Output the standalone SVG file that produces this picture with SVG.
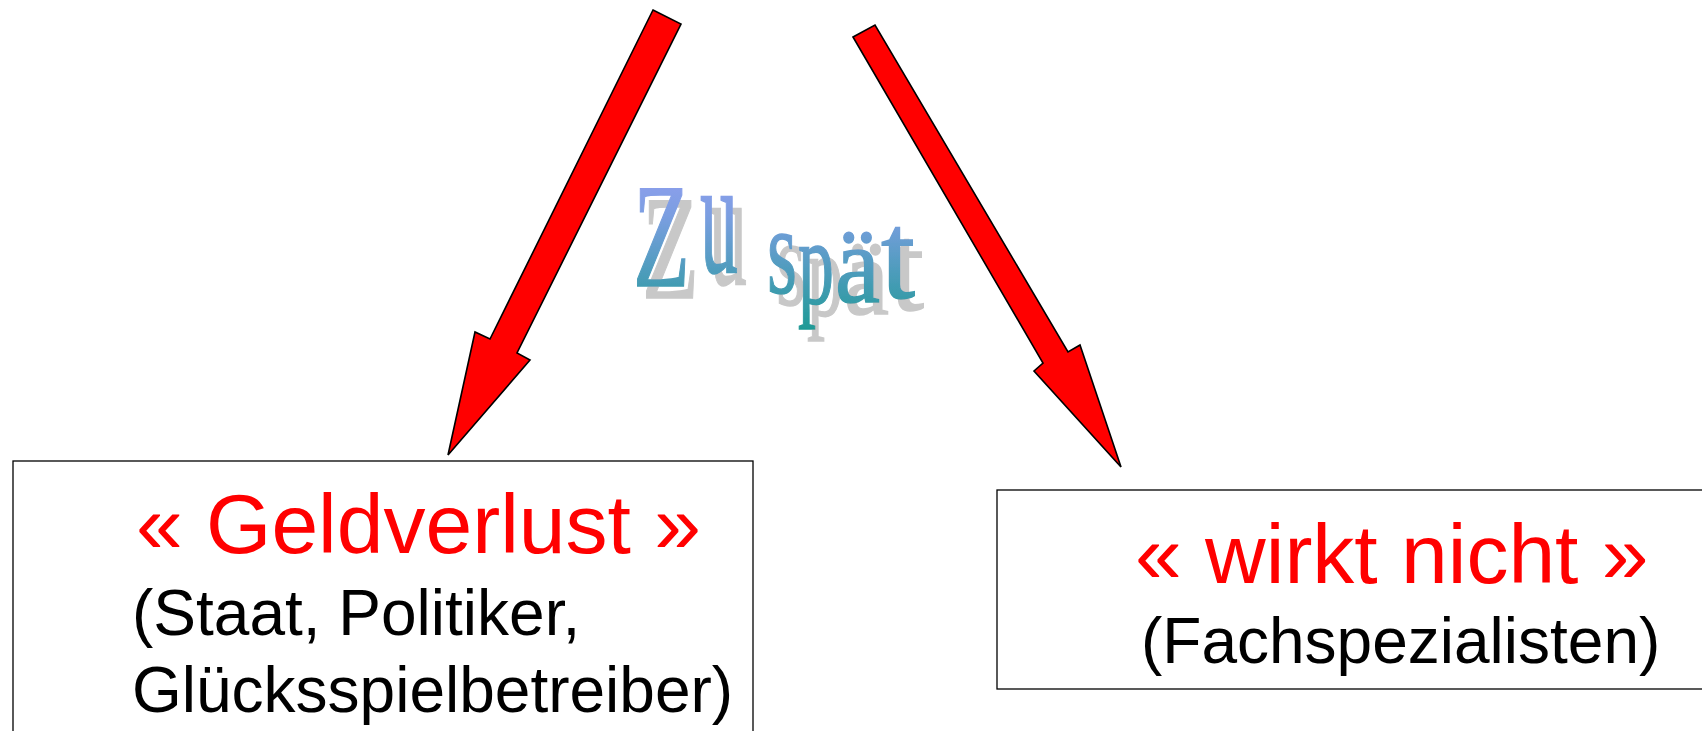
<svg xmlns="http://www.w3.org/2000/svg" width="1702" height="731" viewBox="0 0 1702 731">
<style>
.arrow{fill:#ff0000;stroke:#000;stroke-width:1.6;stroke-linejoin:miter}
.box{fill:#fff;stroke:#000;stroke-width:1.3}
.title{font-family:"Liberation Sans",Arial,sans-serif;font-size:84px;fill:#ff0000}
.sub{font-family:"Liberation Sans",Arial,sans-serif;font-size:64px;fill:#000}
.wa{font-family:"Liberation Serif","Times New Roman",serif;fill:url(#waGrad);stroke:url(#waGrad);stroke-width:1;filter:url(#waShadow)}
</style>
<defs>
<linearGradient id="waGrad" x1="0" y1="0" x2="0" y2="1">
<stop offset="0" stop-color="#a8a0ff"/>
<stop offset="0.45" stop-color="#7a9ee0"/>
<stop offset="1" stop-color="#1f9a96"/>
</linearGradient>
<filter id="waShadow" x="-10%" y="-10%" width="130%" height="130%">
<feFlood flood-color="#c8c8c8" result="c"/>
<feComposite in="c" in2="SourceAlpha" operator="in" result="s"/>
<feOffset in="s" dx="9" dy="8" result="so"/>
<feMerge><feMergeNode in="so"/><feMergeNode in="SourceGraphic"/></feMerge>
</filter>
</defs>
<rect width="1702" height="731" fill="#fff"/>
<g id="connectors">
<polygon class="arrow" points="653,10 681,24 517,353 530,360 448,455 475,332 490,339"/>
<polygon class="arrow" points="853,37 875,25 1068,352 1080,345 1121,467 1034,371 1043,363"/>
</g>
<g id="wordart">
<text class="wa" transform="scale(1,1.5)"><tspan x="633" y="190.7" style="font-size:99px" textLength="57" lengthAdjust="spacingAndGlyphs">Z</tspan><tspan x="700" y="181.3" style="font-size:110px" textLength="38" lengthAdjust="spacingAndGlyphs">u</tspan><tspan style="font-size:60px"> </tspan><tspan x="767" y="195.3" style="font-size:84px" textLength="30" lengthAdjust="spacingAndGlyphs">s</tspan><tspan x="798" y="202" style="font-size:80px" textLength="36" lengthAdjust="spacingAndGlyphs">p</tspan><tspan x="835" y="201.3" style="font-size:74px" textLength="45" lengthAdjust="spacingAndGlyphs">ä</tspan><tspan x="881" y="198.7" style="font-size:84px" textLength="34" lengthAdjust="spacingAndGlyphs">t</tspan></text>
</g>
<g id="node-geldverlust">
<rect class="box" x="13" y="461" width="740" height="290"/>
<text class="title" x="136" y="553">« Geldverlust »</text>
<text class="sub" x="132" y="635">(Staat, Politiker,</text>
<text class="sub" x="132" y="712">Glücksspielbetreiber)</text>
</g>
<g id="node-wirkt-nicht">
<rect class="box" x="997" y="490" width="720" height="199"/>
<text class="title" x="1135" y="583">« wirkt nicht »</text>
<text class="sub" x="1141" y="663">(Fachspezialisten)</text>
</g>
</svg>
